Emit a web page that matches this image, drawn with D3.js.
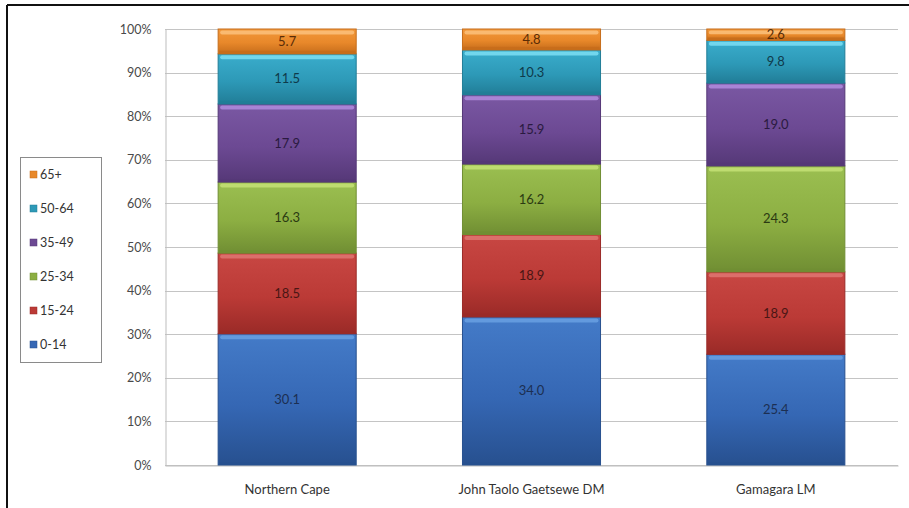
<!DOCTYPE html>
<html>
<head>
<meta charset="utf-8">
<script src="https://cdn.jsdelivr.net/npm/d3@7"></script>
<style>
  html, body { margin: 0; padding: 0; background: #fff; }
  svg { display: block; font-family: Lato, "Open Sans", "Liberation Sans", sans-serif; }
</style>
</head>
<body>
<svg id="chart" width="909" height="508"></svg>
<script>
// Population share by age group (%)
const categories = ["Northern Cape", "John Taolo Gaetsewe DM", "Gamagara LM"];
const ageGroups = ["0-14", "15-24", "25-34", "35-49", "50-64", "65+"];
const age0_14  = [30.1, 34.0, 25.4];
const age15_24 = [18.5, 18.9, 18.9];
const age25_34 = [16.3, 16.2, 24.3];
const age35_49 = [17.9, 15.9, 19.0];
const age50_64 = [11.5, 10.3, 9.8];
const age65    = [5.7, 4.8, 2.6];
const yTicks = [0, 0.1, 0.2, 0.3, 0.4, 0.5, 0.6, 0.7, 0.8, 0.9, 1.0];

const seriesValues = [age0_14, age15_24, age25_34, age35_49, age50_64, age65];
const colors = {
  "0-14":  { base: "#3567b4", light: "#447bc8", dark: "#27508f", edge: "#68a0e2", text: "#1c2f52" },
  "15-24": { base: "#bb3a36", light: "#c84743", dark: "#9a2a27", edge: "#de7772", text: "#4a1614" },
  "25-34": { base: "#8cae42", light: "#9bbf51", dark: "#708e33", edge: "#c4e275", text: "#2b3a12" },
  "35-49": { base: "#6c4993", light: "#7a58a3", dark: "#553877", edge: "#b08cde", text: "#2a1a40" },
  "50-64": { base: "#2d99b7", light: "#3aadcc", dark: "#217d97", edge: "#7cdef3", text: "#0f3a4a" },
  "65+":   { base: "#e8882a", light: "#f2983a", dark: "#c66d1b", edge: "#fbc17b", text: "#5a2c06" }
};

const rows = categories.map((c, i) => {
  const r = { category: c };
  ageGroups.forEach((g, k) => { r[g] = seriesValues[k][i]; });
  return r;
});

const svg = d3.select("#chart");
const W = 909, H = 508;
const FONT = 'Lato, "Open Sans", "Liberation Sans", sans-serif';
const plot = { left: 165, right: 898, top: 29, bottom: 465 };

// outer frame (left and top edges visible)
svg.append("line").attr("x1", 7).attr("x2", 7).attr("y1", 5).attr("y2", H)
  .attr("stroke", "#111").attr("stroke-width", 2);
svg.append("line").attr("x1", 7).attr("x2", W).attr("y1", 5).attr("y2", 5)
  .attr("stroke", "#111").attr("stroke-width", 2);

const x = d3.scaleBand().domain(categories).range([plot.left, plot.right]).paddingInner(0.435).paddingOuter(0.2175);
const y = d3.scaleLinear().domain([0, 1]).range([plot.bottom, plot.top]);

// gridlines
svg.append("g").selectAll("line").data(yTicks).join("line")
  .attr("x1", plot.left).attr("x2", plot.right)
  .attr("y1", d => Math.round(y(d)) + 0.5).attr("y2", d => Math.round(y(d)) + 0.5)
  .attr("stroke", "#c4c4c4").attr("stroke-width", 1);

// y axis
const yAxis = d3.axisLeft(y).tickValues(yTicks).tickFormat(d3.format(".0%")).tickSize(0).tickPadding(14);
const gy = svg.append("g").attr("transform", `translate(${plot.left + 0.5},0)`).call(yAxis)
  .attr("font-family", FONT);
gy.select(".domain").attr("stroke", "#bdbdbd");
gy.selectAll("text").attr("font-size", 12.5).attr("fill", "#4a4a4a");

// x axis
const xAxis = d3.axisBottom(x).tickSize(0).tickPadding(19);
const gx = svg.append("g").attr("transform", `translate(0,${plot.bottom + 0.5})`).call(xAxis)
  .attr("font-family", FONT);
gx.select(".domain").attr("stroke", "#bdbdbd");
gx.selectAll("text").attr("font-size", 13).attr("fill", "#333");

// gradients per series
const defs = svg.append("defs");
ageGroups.forEach((g, k) => {
  const c = colors[g];
  const grad = defs.append("linearGradient").attr("id", "grad" + k)
    .attr("x1", 0).attr("x2", 0).attr("y1", 0).attr("y2", 1);
  grad.append("stop").attr("offset", "0%").attr("stop-color", c.light);
  grad.append("stop").attr("offset", "55%").attr("stop-color", c.base);
  grad.append("stop").attr("offset", "100%").attr("stop-color", c.dark);
});

const stack = d3.stack().keys(ageGroups).offset(d3.stackOffsetExpand);
const layers = stack(rows);

const gBars = svg.append("g");
const gLabels = svg.append("g");
layers.forEach((layer, k) => {
  const g = ageGroups[k];
  const c = colors[g];
  const grp = gBars.append("g");
  layer.forEach(d => {
    const x0 = x(d.data.category), bw = x.bandwidth();
    const yTop = y(d[1]), yBot = y(d[0]);
    const h = yBot - yTop;
    grp.append("rect")
      .attr("x", x0).attr("y", yTop).attr("width", bw).attr("height", h)
      .attr("fill", `url(#grad${k})`)
      .attr("stroke", c.dark).attr("stroke-width", 1);
    // bevel highlight along top edge
    grp.append("rect")
      .attr("x", x0 + 2).attr("y", yTop + 1.5).attr("width", bw - 4).attr("height", Math.min(4, h / 3))
      .attr("rx", 2).attr("fill", c.edge).attr("opacity", 0.85);
    // darker shade at the bottom edge
    grp.append("rect")
      .attr("x", x0 + 1).attr("y", yBot - Math.min(3, h / 4)).attr("width", bw - 2).attr("height", Math.min(3, h / 4))
      .attr("fill", c.dark).attr("opacity", 0.9);
    gLabels.append("text")
      .attr("x", x0 + bw / 2).attr("y", (yTop + yBot) / 2 + 4.5)
      .attr("text-anchor", "middle").attr("font-size", 13)
      .attr("fill", c.text)
      .text(d.data[g].toFixed(1));
  });
});

// legend
const lg = svg.append("g");
lg.append("rect").attr("x", 20.5).attr("y", 157.5).attr("width", 81).attr("height", 205)
  .attr("fill", "#fff").attr("stroke", "#8a8a8a").attr("stroke-width", 1);
const legendOrder = ageGroups.slice().reverse();
legendOrder.forEach((g, i) => {
  const ly = 176 + i * 34;
  const c = colors[g];
  lg.append("rect").attr("x", 30).attr("y", ly - 5).attr("width", 7).attr("height", 7)
    .attr("fill", c.base).attr("stroke", c.dark).attr("stroke-width", 0.5);
  lg.append("text").attr("x", 40).attr("y", ly + 3).attr("font-size", 12.5)
    .attr("fill", "#333").text(g);
});
</script>
</body>
</html>
